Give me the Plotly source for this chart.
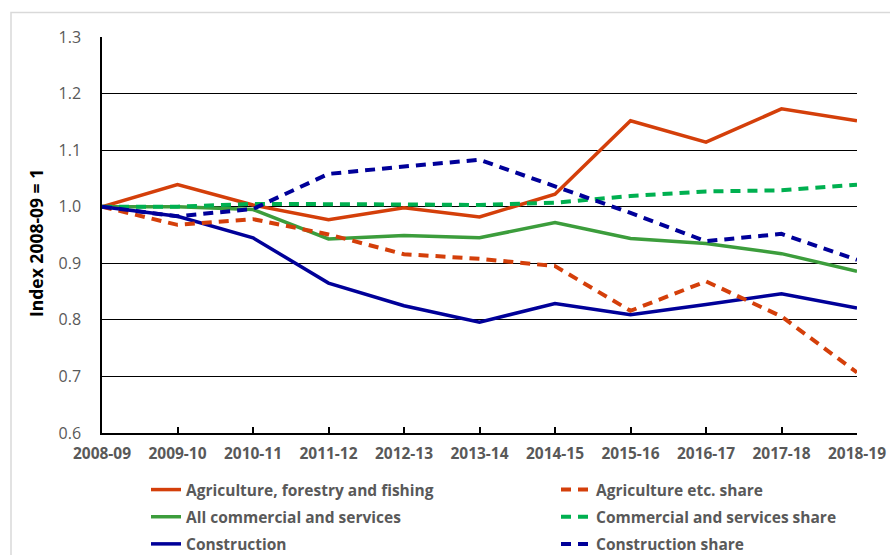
import plotly.graph_objects as go

# Financial years on the category axis
years = ["2008-09", "2009-10", "2010-11", "2011-12", "2012-13", "2013-14",
         "2014-15", "2015-16", "2016-17", "2017-18", "2018-19"]

# Index values (2008-09 = 1)
agriculture = [1.000, 1.039, 1.003, 0.977, 0.998, 0.982, 1.022, 1.152, 1.114, 1.173, 1.152]
agriculture_share = [1.000, 0.968, 0.978, 0.951, 0.916, 0.908, 0.895, 0.816, 0.868, 0.806, 0.707]
commercial = [1.000, 1.000, 0.995, 0.943, 0.949, 0.945, 0.972, 0.944, 0.935, 0.917, 0.886]
commercial_share = [1.000, 1.000, 1.005, 1.005, 1.004, 1.003, 1.007, 1.019, 1.027, 1.029, 1.039]
construction = [1.000, 0.983, 0.945, 0.865, 0.825, 0.796, 0.829, 0.809, 0.827, 0.846, 0.821]
construction_share = [1.000, 0.983, 0.996, 1.058, 1.071, 1.083, 1.036, 0.989, 0.939, 0.952, 0.906]

y_ticks = [0.6, 0.7, 0.8, 0.9, 1.0, 1.1, 1.2, 1.3]

RED = "#D43F0A"
GREEN = "#3C9D3C"
GREEN_SHARE = "#00B050"
BLUE = "#000099"
DASH = "10px,7px"
FONT = "Open Sans"
GREY_TEXT = "#595959"

W, H = 890, 555
L, R, T, B = 102, 33, 37, 122

series = [
    ("Agriculture, forestry and fishing", agriculture, RED, "solid", "legend"),
    ("All commercial and services", commercial, GREEN, "solid", "legend"),
    ("Construction", construction, BLUE, "solid", "legend"),
    ("Agriculture etc. share", agriculture_share, RED, DASH, "legend2"),
    ("Commercial and services share", commercial_share, GREEN_SHARE, DASH, "legend2"),
    ("Construction share", construction_share, BLUE, DASH, "legend2"),
]

fig = go.Figure()
for name, vals, color, dash, leg in series:
    fig.add_trace(go.Scatter(
        x=years, y=vals, name=name, mode="lines",
        line=dict(color=color, width=4 if dash != "solid" else 3.5, dash=dash),
        legend=leg, legendgroup=name,
    ))

legend_style = dict(
    xref="container", yref="container", xanchor="left", yanchor="top",
    orientation="v", tracegroupgap=4, bgcolor="rgba(0,0,0,0)",
    font=dict(family=FONT, size=15.5, color=GREY_TEXT, weight="bold"),
    itemwidth=30,
)

fig.update_layout(
    width=W, height=H,
    margin=dict(l=L, r=R, t=T, b=B, pad=0, autoexpand=False),
    paper_bgcolor="white", plot_bgcolor="white",
    font=dict(family=FONT, color=GREY_TEXT),
    showlegend=True,
    legend=dict(x=146 / W, y=1 - 473 / H, **legend_style),
    legend2=dict(x=556 / W, y=1 - 473 / H, **legend_style),
    xaxis=dict(
        type="category", range=[0, len(years) - 1],
        showgrid=False, showline=True, linecolor="black", linewidth=1.5,
        ticks="inside", ticklen=6, tickcolor="black", tickwidth=1.5,
        tickfont=dict(family=FONT, size=15.5, color=GREY_TEXT, weight="bold"),
        ticklabelstandoff=6, tickangle=0,
    ),
    yaxis=dict(
        range=[0.6, 1.3], tickvals=y_ticks, tickformat=".1f",
        showgrid=True, gridcolor="black", gridwidth=1,
        showline=True, linecolor="black", linewidth=1.5,
        ticks="", zeroline=False,
        tickfont=dict(family=FONT, size=16, color=GREY_TEXT),
        ticklabelstandoff=16,
    ),
    annotations=[dict(
        text="Index 2008-09 = 1", textangle=-90,
        xref="paper", yref="paper",
        x=-(L - 36) / (W - L - R), y=1 - (243 - T) / (H - T - B),
        xanchor="center", yanchor="middle", showarrow=False,
        font=dict(family=FONT, size=17.5, color="black", weight="bold"),
    )],
    shapes=[dict(
        type="rect", xref="paper", yref="paper",
        x0=-(L - 11) / (W - L - R), x1=(W + 5 - L) / (W - L - R),
        y0=-(B + 5) / (H - T - B), y1=1 + (T - 12.5) / (H - T - B),
        line=dict(color="#D9D9D9", width=1.5), layer="below",
    )],
)

fig.write_html("out.html")
